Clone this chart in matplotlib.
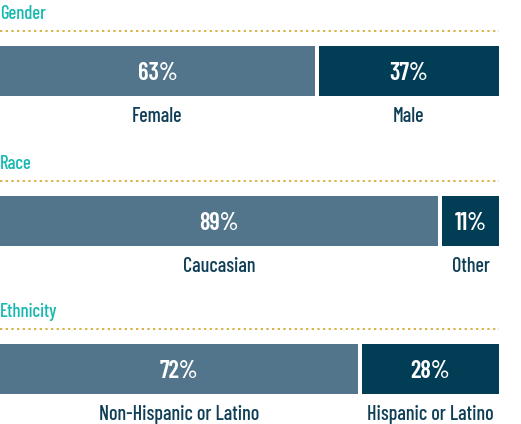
import matplotlib.pyplot as plt

# data
groups = ['Gender', 'Race', 'Ethnicity']
first_labels = ['Female', 'Caucasian', 'Non-Hispanic or Latino']
second_labels = ['Male', 'Other', 'Hispanic or Latino']
first_values = [63.6, 88.5, 72.3]
second_values = [36.4, 11.5, 27.7]
first_text = ['63%', '89%', '72%']
second_text = ['37%', '11%', '28%']

light = '#52758c'
dark = '#023d56'
teal = '#16b8b0'
gold = '#d2a728'
label_col = '#0e3f57'
fam = ['Barlow Condensed', 'DejaVu Sans']

fig = plt.figure(figsize=(5.21, 4.24), dpi=100)
ax = fig.add_axes([0, 0, 499 / 521, 1])
gap = 0.8
ax.set_xlim(0, 100 + gap)
ax.set_ylim(424, 0)
ax.axis('off')

bar_y = [71, 221, 369]
for i, g in enumerate(groups):
    y = bar_y[i]
    a, b = first_values[i], second_values[i]
    ax.barh(y, a, height=50, left=0, color=light)
    ax.barh(y, b, height=50, left=a + gap, color=dark)
    ax.text(a / 2, y + 2.5, first_text[i], ha='center', va='center', color='white',
            fontsize=17.5, family=fam, fontweight=600)
    ax.text(a + gap + b / 2, y + 2.5, second_text[i], ha='center', va='center', color='white',
            fontsize=17.5, family=fam, fontweight=600)
    ax.text(a / 2, y + 46, first_labels[i], ha='center', va='center', color=label_col,
            fontsize=14.5, family=fam, fontweight=500)
    ax.text(a + gap + b / 2, y + 46, second_labels[i], ha='center', va='center', color=label_col,
            fontsize=14.5, family=fam, fontweight=500)
    # group title and dotted rule
    ax.text(0, y - 57, g, ha='left', va='center', color=teal, fontsize=13.5, family=fam,
            fontweight=500)
    ax.plot([0, 100 + gap], [y - 40, y - 40], color=gold, lw=1.2, dashes=(1.4, 2.0),
            solid_capstyle='butt')

fig.savefig('out.png', dpi=100)
